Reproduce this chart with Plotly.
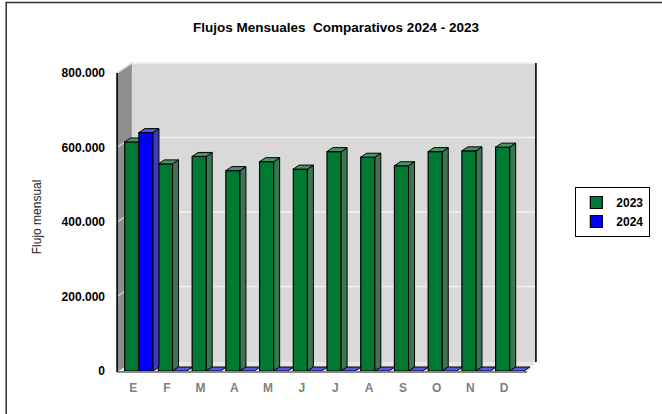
import plotly.graph_objects as go

# ---------------- data ----------------
months = ["E", "F", "M", "A", "M", "J", "J", "A", "S", "O", "N", "D"]
flujo_2023 = [615000, 556000, 576000, 538000, 562000, 542000, 589000, 574000, 551000, 589000, 591000, 601000]
flujo_2024 = [640000, 0, 0, 0, 0, 0, 0, 0, 0, 0, 0, 0]
y_ticks = [0, 200000, 400000, 600000, 800000]
y_tick_text = ["0", "200.000", "400.000", "600.000", "800.000"]

# ---------------- geometry helpers ----------------
W, H = 662, 414
L, R, T, B = 122, 126, 73, 43
PW, PH = W - L - R, H - T - B
XR = [-0.5, 11.6]
YR = [0, 800000]
ux = (XR[1] - XR[0]) / PW          # data units per px (x)
uy = (YR[1] - YR[0]) / PH          # data units per px (y)

def px_x(px):
    return (px - L) / PW

def px_y(py):
    return (H - B - py) / PH

def val_py(v):
    return H - B - (v - YR[0]) / uy

BW = 0.42                  # bar width
DX, DY = 6 * ux, 4 * uy    # bar depth
WDX, WDY = 15, 10          # wall depth in px

GREEN, GREEN_SIDE, GREEN_TOP = "#007A33", "#3B7552", "#4E9168"
BLUE, BLUE_SIDE, BLUE_TOP = "#0000FF", "#3C3CBE", "#5858E4"
FONT = "Liberation Sans, Arial, sans-serif"

fig = go.Figure()

fig.add_trace(go.Bar(name="2023", x=list(range(len(months))), y=flujo_2023,
                     offset=-BW, width=BW, marker_color=GREEN,
                     marker_line=dict(color="black", width=1.2), hoverinfo="skip"))
fig.add_trace(go.Bar(name="2024", x=list(range(len(months))), y=flujo_2024,
                     offset=0, width=BW, marker_color=BLUE,
                     marker_line=dict(color="black", width=1.2), hoverinfo="skip"))

def faces(values, off, other=None):
    sx, sy, tx, ty = [], [], [], []
    for i, v in enumerate(values):
        x0, x1 = i + off, i + off + BW
        hidden = other is not None and other[i] >= v + DY
        if v > 0 and not hidden:
            sx += [x1, x1 + DX, x1 + DX, x1, x1, None]
            sy += [0, DY, v + DY, v, 0, None]
        xr = x1 if hidden else x1 + DX
        tx += [x0, x0 + DX, xr, x1, x0, None]
        ty += [v, v + DY, v + DY, v, v, None]
    return sx, sy, tx, ty

for vals, off, other, cs, ct in [(flujo_2023, -BW, flujo_2024, GREEN_SIDE, GREEN_TOP),
                                 (flujo_2024, 0, None, BLUE_SIDE, BLUE_TOP)]:
    sx, sy, tx, ty = faces(vals, off, other)
    if sx:
        fig.add_trace(go.Scatter(x=sx, y=sy, mode="lines", fill="toself", fillcolor=cs,
                                 line=dict(color="black", width=1), showlegend=False,
                                 hoverinfo="skip"))
    fig.add_trace(go.Scatter(x=tx, y=ty, mode="lines", fill="toself", fillcolor=ct,
                             line=dict(color="black", width=1), showlegend=False,
                             hoverinfo="skip"))

# ---------------- walls (decoration) ----------------
front_l, back_l = 117, 117 + WDX
front_r = 533
back_r = front_r + WDX - 6
top_f, top_b = val_py(YR[1]), val_py(YR[1]) - WDY
bot_f, bot_b = val_py(0) + 1, val_py(0) + 1 - WDY

def poly(pts):
    return "M " + " L ".join(f"{px_x(a):.5f},{px_y(b):.5f}" for a, b in pts) + " Z"

shapes = []
shapes.append(dict(type="path", xref="paper", yref="paper", layer="below",
                   path=poly([(back_l, top_b), (back_r, top_b), (back_r, bot_b), (back_l, bot_b)]),
                   fillcolor="#D9D9D9", line=dict(width=0)))
shapes.append(dict(type="line", xref="paper", yref="paper", layer="below",
                   x0=px_x(back_l), x1=px_x(back_r), y0=px_y(top_b), y1=px_y(top_b),
                   line=dict(color="#EDEDED", width=1.5)))
shapes.append(dict(type="path", xref="paper", yref="paper", layer="below",
                   path=poly([(front_l, bot_f), (back_l, bot_b), (back_r, bot_b), (front_r, bot_f + 1)]),
                   fillcolor="#E6E6E6", line=dict(width=0)))
shapes.append(dict(type="path", xref="paper", yref="paper", layer="below",
                   path=poly([(front_l, top_f), (back_l, top_b), (back_l, bot_b), (front_l, bot_f)]),
                   fillcolor="#8E8E8E", line=dict(width=0)))
shapes.append(dict(type="line", xref="paper", yref="paper", layer="below",
                   x0=px_x(front_l), x1=px_x(back_l), y0=px_y(top_f), y1=px_y(top_b),
                   line=dict(color="#E8E8E8", width=1.5)))
for v in y_ticks[1:]:
    yf = val_py(v)
    shapes.append(dict(type="line", xref="paper", yref="paper", layer="below",
                       x0=px_x(back_l), x1=px_x(back_r), y0=px_y(yf - WDY), y1=px_y(yf - WDY),
                       line=dict(color="#F2F2F2", width=1.5)))
    shapes.append(dict(type="line", xref="paper", yref="paper", layer="below",
                       x0=px_x(front_l), x1=px_x(back_l), y0=px_y(yf), y1=px_y(yf - WDY),
                       line=dict(color="#D8D8D8", width=1.2)))
shapes.append(dict(type="line", xref="paper", yref="paper", layer="below",
                   x0=px_x(front_l), x1=px_x(front_l), y0=px_y(top_f), y1=px_y(bot_f),
                   line=dict(color="black", width=1.6)))
shapes.append(dict(type="line", xref="paper", yref="paper", layer="below",
                   x0=px_x(back_r), x1=px_x(back_r), y0=px_y(top_b), y1=px_y(bot_b),
                   line=dict(color="black", width=1.6)))
shapes.append(dict(type="line", xref="paper", yref="paper", layer="below",
                   x0=px_x(front_l), x1=px_x(front_r), y0=px_y(bot_f), y1=px_y(bot_f),
                   line=dict(color="#222222", width=1)))
shapes.append(dict(type="rect", xref="paper", yref="paper", layer="below",
                   x0=px_x(4.5), x1=px_x(W + 20), y0=px_y(H + 20), y1=px_y(2.5),
                   line=dict(color="#333333", width=1.5), fillcolor="rgba(0,0,0,0)"))

fig.update_layout(
    width=W, height=H,
    margin=dict(l=L, r=R, t=T, b=B),
    paper_bgcolor="white", plot_bgcolor="rgba(0,0,0,0)",
    barmode="overlay",
    shapes=shapes,
    title=dict(text="<b>Flujos Mensuales  Comparativos 2024 - 2023</b>",
               x=336 / W, xanchor="center", y=1 - 27 / H, yanchor="middle",
               font=dict(family=FONT, size=13.5, color="black")),
    xaxis=dict(range=XR, tickvals=[i - 0.17 for i in range(len(months))], ticktext=months,
               showgrid=False, zeroline=False, showline=False, ticks="",
               tickfont=dict(family=FONT, size=12, color="#808080", weight="bold"),
               ticklabelstandoff=8),
    yaxis=dict(range=YR, tickvals=y_ticks, ticktext=y_tick_text,
               showgrid=False, zeroline=False, showline=False, ticks="",
               tickfont=dict(family=FONT, size=12, color="black", weight="bold"),
               ticklabelstandoff=16),
    legend=dict(x=px_x(582), y=px_y(187), xanchor="left", yanchor="top",
                bordercolor="black", borderwidth=1, bgcolor="white",
                font=dict(family=FONT, size=12, color="black", weight="bold"),
                traceorder="normal"),
    annotations=[dict(text="Flujo mensual", textangle=-90, xref="paper", yref="paper",
                      x=px_x(36), y=px_y(217), showarrow=False, xanchor="center", yanchor="middle",
                      font=dict(family=FONT, size=12, color="#222222"))],
)

fig.write_html("out.html", config={"displayModeBar": False},
               post_script="document.body.style.margin='0';")
